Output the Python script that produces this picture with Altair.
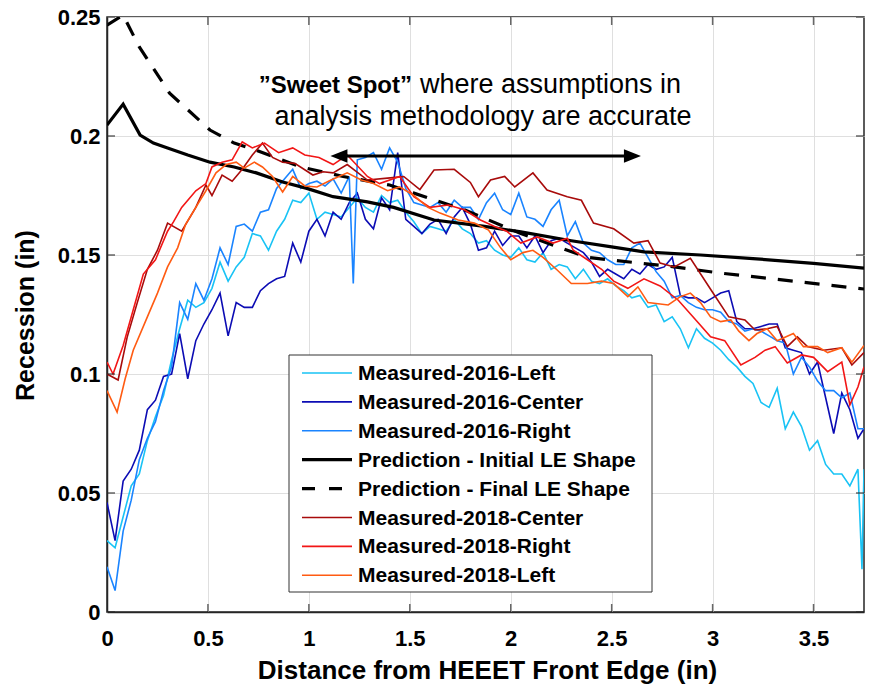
import altair as alt
import pandas as pd

# ---------------- data ----------------
SERIES = ["Measured-2016-Left", "Measured-2016-Center", "Measured-2016-Right",
          "Prediction - Initial LE Shape", "Prediction - Final LE Shape",
          "Measured-2018-Center", "Measured-2018-Right", "Measured-2018-Left"]
COLORS = ["#19c3f5", "#0c0cb4", "#1a84ff", "#000000", "#000000",
          "#a80b0b", "#f21616", "#ff5b12"]
WIDTHS = [1.6, 1.6, 1.6, 3.2, 3.2, 1.6, 1.6, 1.6]
DASH = [15, 12]

X_GRID = [0.00, 0.04, 0.08, 0.12, 0.16, 0.20, 0.24, 0.28, 0.32, 0.36,
          0.40, 0.44, 0.48, 0.52, 0.56, 0.60, 0.64, 0.68, 0.72, 0.76,
          0.80, 0.84, 0.88, 0.92, 0.96, 1.00, 1.04, 1.08, 1.12, 1.16,
          1.20, 1.24, 1.28, 1.32, 1.36, 1.40, 1.44, 1.48, 1.52, 1.56,
          1.60, 1.64, 1.68, 1.72, 1.76, 1.80, 1.84, 1.88, 1.92, 1.96,
          2.00, 2.04, 2.08, 2.12, 2.16, 2.20, 2.24, 2.28, 2.32, 2.36,
          2.40, 2.44, 2.48, 2.52, 2.56, 2.60, 2.64, 2.68, 2.72, 2.76,
          2.80, 2.84, 2.88, 2.92, 2.96, 3.00, 3.04, 3.08, 3.12, 3.16,
          3.20, 3.24, 3.28, 3.32, 3.36, 3.40, 3.44, 3.48, 3.52, 3.56,
          3.60, 3.64, 3.68, 3.72]

Y_2016_LEFT = [0.030, 0.027, 0.040, 0.053, 0.058, 0.072, 0.082, 0.091, 0.106, 0.119,
               0.131, 0.128, 0.130, 0.136, 0.147, 0.139, 0.145, 0.149, 0.159, 0.158,
               0.152, 0.160, 0.165, 0.173, 0.172, 0.176, 0.165, 0.168, 0.167, 0.166,
               0.170, 0.174, 0.170, 0.168, 0.175, 0.172, 0.173, 0.168, 0.164, 0.159,
               0.162, 0.161, 0.160, 0.165, 0.161, 0.159, 0.155, 0.156, 0.152, 0.150,
               0.149, 0.153, 0.148, 0.147, 0.151, 0.144, 0.146, 0.145, 0.140, 0.144,
               0.139, 0.138, 0.140, 0.137, 0.135, 0.132, 0.133, 0.128, 0.129, 0.122,
               0.124, 0.119, 0.111, 0.119, 0.115, 0.113, 0.110, 0.106, 0.103, 0.099,
               0.096, 0.088, 0.086, 0.094, 0.077, 0.084, 0.078, 0.068, 0.072, 0.062,
               0.058, 0.058, 0.053, 0.060]
X_2016_LEFT_END = [3.74, 3.75]
Y_2016_LEFT_END = [0.018, 0.060]

Y_2016_CENTER = [0.046, 0.030, 0.055, 0.060, 0.068, 0.085, 0.089, 0.099, 0.100, 0.117,
                 0.098, 0.114, 0.121, 0.127, 0.134, 0.116, 0.130, 0.128, 0.128, 0.135,
                 0.138, 0.140, 0.141, 0.155, 0.147, 0.160, 0.165, 0.158, 0.168, 0.165,
                 0.172, 0.176, 0.165, 0.161, 0.174, 0.169, 0.193, 0.165, 0.162, 0.159,
                 0.163, 0.165, 0.159, 0.166, 0.170, 0.163, 0.152, 0.153, 0.160, 0.154,
                 0.158, 0.158, 0.153, 0.158, 0.151, 0.156, 0.157, 0.155, 0.153, 0.151,
                 0.147, 0.141, 0.144, 0.142, 0.140, 0.144, 0.142, 0.146, 0.144, 0.145,
                 0.149, 0.133, 0.132, 0.132, 0.130, 0.132, 0.134, 0.135, 0.122, 0.119,
                 0.119, 0.120, 0.121, 0.121, 0.111, 0.110, 0.109, 0.100, 0.105, 0.090,
                 0.075, 0.092, 0.085, 0.073]
X_2016_CENTER_END = [3.75]
Y_2016_CENTER_END = [0.077]

Y_2016_RIGHT = [0.019, 0.009, 0.034, 0.047, 0.064, 0.073, 0.080, 0.093, 0.103, 0.130,
                0.123, 0.138, 0.131, 0.140, 0.153, 0.146, 0.162, 0.163, 0.160, 0.168,
                0.169, 0.178, 0.182, 0.186, 0.178, 0.180, 0.181, 0.179, 0.182, 0.176,
                0.183, 0.190, 0.191, 0.193, 0.186, 0.195, 0.189, 0.178, 0.172, 0.171,
                0.170, 0.172, 0.168, 0.173, 0.170, 0.170, 0.165, 0.172, 0.176, 0.169,
                0.167, 0.176, 0.166, 0.165, 0.162, 0.169, 0.173, 0.158, 0.164, 0.155,
                0.152, 0.151, 0.148, 0.146, 0.146, 0.153, 0.155, 0.149, 0.143, 0.139,
                0.132, 0.133, 0.130, 0.128, 0.127, 0.127, 0.126, 0.122, 0.121, 0.118,
                0.119, 0.118, 0.116, 0.114, 0.113, 0.100, 0.107, 0.103, 0.097, 0.093,
                0.093, 0.090, 0.092, 0.077]
X_2016_RIGHT_EXTRA = [1.22, 3.75]
Y_2016_RIGHT_EXTRA = [0.138, 0.077]

X_PRED_INITIAL = [0.00, 0.08, 0.164, 0.23, 0.30, 0.40, 0.51, 0.63, 0.74, 0.87, 0.99, 1.12,
                  1.29, 1.42, 1.62, 1.87, 2.05, 2.30, 2.50, 2.66, 2.94, 3.20, 3.50, 3.75]
Y_PRED_INITIAL = [0.2046, 0.2134, 0.2004, 0.197, 0.195, 0.192, 0.189, 0.187, 0.1845, 0.1807,
                  0.178, 0.1745, 0.1723, 0.170, 0.1647, 0.162, 0.1597, 0.156, 0.1534, 0.1513,
                  0.150, 0.1485, 0.1465, 0.1445]

X_PRED_FINAL = [0.00, 0.08, 0.16, 0.31, 0.51, 0.63, 0.74, 0.96, 1.17, 1.40, 1.52, 1.77,
                2.05, 2.38, 2.81, 3.04, 3.40, 3.75]
Y_PRED_FINAL = [0.2466, 0.2508, 0.2374, 0.218, 0.2025, 0.197, 0.194, 0.187, 0.183, 0.1794,
                0.176, 0.169, 0.159, 0.149, 0.145, 0.1424, 0.139, 0.1357]

X_2018_CENTER = [0.00, 0.055, 0.10, 0.15, 0.20, 0.25, 0.30, 0.37, 0.44, 0.49,
                 0.52, 0.57, 0.62, 0.67, 0.72, 0.77, 0.82, 0.87, 0.93, 1.02,
                 1.07, 1.12, 1.19, 1.29, 1.39, 1.47, 1.55, 1.62, 1.72, 1.80,
                 1.84, 1.90, 1.97, 2.02, 2.11, 2.18, 2.28, 2.35, 2.41, 2.51,
                 2.61, 2.68, 2.74, 2.81, 2.89, 2.99, 3.08, 3.16, 3.21, 3.27,
                 3.32, 3.37, 3.42, 3.47, 3.55, 3.64, 3.69, 3.75]
Y_2018_CENTER = [0.100, 0.0975, 0.1155, 0.130, 0.144, 0.152, 0.1634, 0.160, 0.170, 0.1794,
                 0.175, 0.1836, 0.181, 0.186, 0.192, 0.197, 0.191, 0.189, 0.1885, 0.1836,
                 0.185, 0.1845, 0.188, 0.1815, 0.1823, 0.183, 0.1775, 0.1857, 0.186, 0.1805,
                 0.1745, 0.1815, 0.183, 0.1786, 0.1845, 0.1773, 0.1745, 0.173, 0.1634, 0.161,
                 0.155, 0.156, 0.1466, 0.145, 0.1486, 0.1356, 0.124, 0.1227, 0.1185, 0.119,
                 0.120, 0.1115, 0.1156, 0.1115, 0.110, 0.111, 0.1038, 0.109]

X_2018_RIGHT = [0.00, 0.03, 0.08, 0.13, 0.18, 0.24, 0.30, 0.33, 0.37, 0.44,
                0.49, 0.52, 0.57, 0.62, 0.67, 0.72, 0.78, 0.85, 0.92, 0.98,
                1.05, 1.12, 1.19, 1.29, 1.35, 1.45, 1.52, 1.60, 1.69, 1.77,
                1.85, 1.92, 1.98, 2.05, 2.13, 2.21, 2.28, 2.31, 2.38, 2.45,
                2.51, 2.58, 2.66, 2.74, 2.83, 2.93, 2.99, 3.06, 3.14, 3.21,
                3.26, 3.31, 3.37, 3.44, 3.50, 3.57, 3.64, 3.68, 3.72, 3.75]
Y_2018_RIGHT = [0.105, 0.100, 0.112, 0.127, 0.142, 0.148, 0.160, 0.164, 0.170, 0.177,
                0.180, 0.187, 0.189, 0.190, 0.1975, 0.195, 0.197, 0.193, 0.195, 0.192,
                0.191, 0.188, 0.192, 0.183, 0.180, 0.183, 0.1745, 0.170, 0.171, 0.169,
                0.1647, 0.162, 0.160, 0.155, 0.1576, 0.155, 0.157, 0.152, 0.148, 0.144,
                0.139, 0.136, 0.140, 0.137, 0.131, 0.1214, 0.1156, 0.114, 0.1038, 0.107,
                0.110, 0.1115, 0.1046, 0.108, 0.107, 0.101, 0.105, 0.087, 0.0945, 0.103]

X_2018_LEFT = [0.00, 0.05, 0.09, 0.13, 0.20, 0.25, 0.30, 0.35, 0.39, 0.44,
               0.49, 0.54, 0.59, 0.64, 0.68, 0.73, 0.77, 0.82, 0.87, 0.92,
               0.98, 1.04, 1.11, 1.19, 1.26, 1.32, 1.39, 1.45, 1.52, 1.59,
               1.65, 1.74, 1.82, 1.89, 1.95, 2.00, 2.06, 2.11, 2.16, 2.23,
               2.30, 2.38, 2.45, 2.51, 2.58, 2.63, 2.68, 2.78, 2.84, 2.89,
               2.94, 2.99, 3.04, 3.09, 3.13, 3.18, 3.22, 3.27, 3.32, 3.40,
               3.45, 3.52, 3.57, 3.64, 3.69, 3.75]
Y_2018_LEFT = [0.093, 0.084, 0.098, 0.110, 0.124, 0.134, 0.145, 0.153, 0.163, 0.170,
               0.177, 0.1845, 0.188, 0.189, 0.1865, 0.189, 0.187, 0.183, 0.1765, 0.183,
               0.179, 0.1786, 0.1815, 0.1845, 0.1815, 0.180, 0.177, 0.1786, 0.175, 0.170,
               0.1676, 0.1647, 0.1634, 0.1605, 0.153, 0.148, 0.151, 0.152, 0.149, 0.1437,
               0.138, 0.138, 0.139, 0.138, 0.1325, 0.1366, 0.130, 0.129, 0.1325, 0.134,
               0.130, 0.124, 0.122, 0.1227, 0.118, 0.114, 0.117, 0.119, 0.114, 0.117,
               0.1115, 0.1115, 0.109, 0.111, 0.105, 0.112]

X_TICKS = [0, 0.5, 1, 1.5, 2, 2.5, 3, 3.5]
Y_TICKS = [0, 0.05, 0.1, 0.15, 0.2, 0.25]
X_DOMAIN = [0, 3.75]
Y_DOMAIN = [0, 0.25]

# annotation (sweet-spot arrow, in data units)
ARROW_X = [1.149, 2.603]
ARROW_Y = 0.1916
ANNOT_BOLD = "\u201dSweet Spot\u201d"
ANNOT_REST = "where assumptions in"
ANNOT_LINE2 = "analysis methodology are accurate"

FONT = "Liberation Sans"
AXIS_COLOR = "#262626"

# ---------------- encodings ----------------
x_enc = alt.X("x:Q", scale=alt.Scale(domain=X_DOMAIN, nice=False, zero=False),
              axis=alt.Axis(values=X_TICKS, format="~g", title="Distance from HEEET Front Edge (in)",
                            grid=True, gridColor="#dfdfdf", gridWidth=1, ticks=False,
                            domainColor=AXIS_COLOR, domainWidth=1.5,
                            labelFont=FONT, labelFontSize=22, labelFontWeight="bold",
                            labelColor="black", labelPadding=16, labelFlush=False,
                            labelOverlap=False,
                            titleFont=FONT, titleFontSize=26, titleFontWeight="bold",
                            titleColor="black", titleX=380, titleY=58, titleBaseline="middle"))
y_enc = alt.Y("y:Q", scale=alt.Scale(domain=Y_DOMAIN, nice=False, zero=False),
              axis=alt.Axis(values=Y_TICKS, format="~g", title="Recession (in)",
                            grid=True, gridColor="#dfdfdf", gridWidth=1, ticks=False,
                            domainColor=AXIS_COLOR, domainWidth=1.5,
                            labelFont=FONT, labelFontSize=22, labelFontWeight="bold",
                            labelColor="black", labelPadding=7, labelFlush=False,
                            labelOverlap=False,
                            titleFont=FONT, titleFontSize=25, titleFontWeight="bold",
                            titleColor="black", titleX=-82, titleY=298, titleBaseline="middle"))


def line_layer(xs, ys, color, width, dash=None):
    df = pd.DataFrame({"x": xs, "y": ys})
    kw = dict(color=color, strokeWidth=width, clip=True)
    if dash:
        kw["strokeDash"] = dash
    return alt.Chart(df).mark_line(**kw).encode(x=x_enc, y=y_enc)


series_xy = [
    (X_GRID + X_2016_LEFT_END, Y_2016_LEFT + Y_2016_LEFT_END),
    (X_GRID + X_2016_CENTER_END, Y_2016_CENTER + Y_2016_CENTER_END),
    (X_GRID + X_2016_RIGHT_EXTRA, Y_2016_RIGHT + Y_2016_RIGHT_EXTRA),
    (X_PRED_INITIAL, Y_PRED_INITIAL),
    (X_PRED_FINAL, Y_PRED_FINAL),
    (X_2018_CENTER, Y_2018_CENTER),
    (X_2018_RIGHT, Y_2018_RIGHT),
    (X_2018_LEFT, Y_2018_LEFT),
]

layers = []
for i, (xs, ys) in enumerate(series_xy):
    pairs = sorted(zip(xs, ys))
    layers.append(line_layer([p[0] for p in pairs], [p[1] for p in pairs],
                             COLORS[i], WIDTHS[i], DASH if i == 4 else None))

# inward box ticks (MATLAB style), clipped at the plot edge
tick_rows = ([{"x": v, "y": Y_DOMAIN[0]} for v in X_TICKS] +
             [{"x": v, "y": Y_DOMAIN[1]} for v in X_TICKS])
ytick_rows = ([{"x": X_DOMAIN[0], "y": v} for v in Y_TICKS] +
              [{"x": X_DOMAIN[1], "y": v} for v in Y_TICKS])
layers.append(alt.Chart(pd.DataFrame(tick_rows)).mark_tick(
    orient="vertical", size=16, thickness=1.5, color=AXIS_COLOR, clip=True).encode(x=x_enc, y=y_enc))
layers.append(alt.Chart(pd.DataFrame(ytick_rows)).mark_tick(
    orient="horizontal", size=16, thickness=1.5, color=AXIS_COLOR, clip=True).encode(x=x_enc, y=y_enc))

# sweet-spot arrow
arrow_df = pd.DataFrame({"x": [ARROW_X[0]], "x2": [ARROW_X[1]], "y": [ARROW_Y]})
layers.append(alt.Chart(arrow_df).mark_rule(color="black", strokeWidth=3).encode(
    x=x_enc, x2="x2:Q", y=y_enc))
head_l = pd.DataFrame({"x": [ARROW_X[0]], "y": [ARROW_Y]})
head_r = pd.DataFrame({"x": [ARROW_X[1]], "y": [ARROW_Y]})
layers.append(alt.Chart(head_l).mark_point(shape="M-1,0L1,-0.8L1,0.8Z", filled=True, size=289,
                                           color="black", opacity=1).encode(x=x_enc, y=y_enc))
layers.append(alt.Chart(head_r).mark_point(shape="M1,0L-1,-0.8L-1,0.8Z", filled=True, size=289,
                                           color="black", opacity=1).encode(x=x_enc, y=y_enc))

one = alt.Data(values=[{"k": 1}])
layers.append(alt.Chart(one).mark_text(text=ANNOT_BOLD, align="right", baseline="alphabetic",
                                       font=FONT, fontSize=24, fontWeight="bold", color="black")
              .encode(x=alt.value(305), y=alt.value(76)))
layers.append(alt.Chart(one).mark_text(text=ANNOT_REST, align="left", baseline="alphabetic",
                                       font=FONT, fontSize=27, color="black")
              .encode(x=alt.value(313), y=alt.value(76)))
layers.append(alt.Chart(one).mark_text(text=ANNOT_LINE2, align="center", baseline="alphabetic",
                                       font=FONT, fontSize=27, color="black")
              .encode(x=alt.value(376), y=alt.value(108)))

# legend box (drawn as layers)
layers.append(alt.Chart(one).mark_rect(fill="white", stroke="#333333", strokeWidth=1).encode(
    x=alt.value(182), x2=alt.value(545), y=alt.value(338), y2=alt.value(575)))
for i, name in enumerate(SERIES):
    ypos = 356 + 28.9 * i
    rule_kw = dict(color=COLORS[i], strokeWidth=WIDTHS[i])
    if i == 4:
        rule_kw["strokeDash"] = [13, 14]
    layers.append(alt.Chart(one).mark_rule(**rule_kw).encode(
        x=alt.value(195), x2=alt.value(245), y=alt.value(ypos)))
    layers.append(alt.Chart(one).mark_text(text=name, align="left", baseline="middle",
                                           font=FONT, fontSize=21, fontWeight="bold",
                                           color="black")
                  .encode(x=alt.value(251), y=alt.value(ypos + 1)))

chart = alt.layer(*layers).properties(
    width=757, height=595,
    autosize=alt.AutoSizeParams(type="none"),
    padding={"left": 107, "top": 17, "right": 6, "bottom": 74},
    background="white",
).configure_view(stroke=AXIS_COLOR, strokeWidth=1.5)

chart.save("out.html", embed_options={"renderer": "svg", "actions": False})
